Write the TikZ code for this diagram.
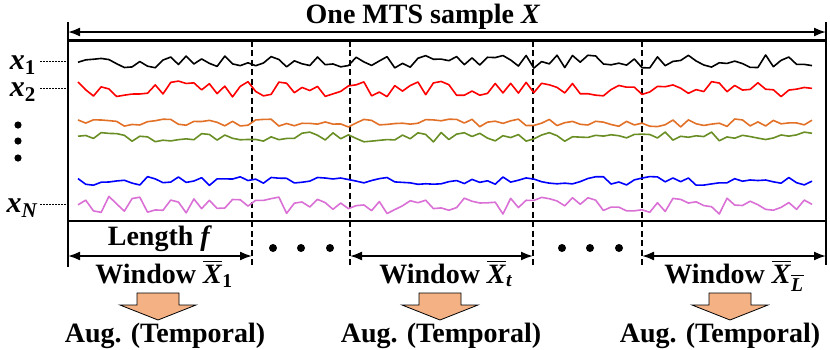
\documentclass[tikz,border=0pt]{standalone}
\usepackage{amsmath}
\usepackage{fontspec}
\setmainfont{Liberation Serif}
\usetikzlibrary{arrows.meta,positioning,calc}
\definecolor{tsorange}{RGB}{226,112,38}
\definecolor{tsgreen}{RGB}{104,142,36}
\definecolor{tspink}{RGB}{218,112,214}
\definecolor{augfill}{RGB}{244,177,131}
\tikzset{
  frame/.style={line width=2.6pt},
  span/.style={{Latex[length=12pt,width=9pt]}-{Latex[length=12pt,width=9pt]}, line width=1.8pt},
  cut/.style={dash pattern=on 6pt off 3.5pt, line width=1.3pt},
  guide/.style={dash pattern=on 2pt off 1pt, line width=0.6pt},
  series/.style={line width=1.6pt, line join=round},
  lbl/.style={font=\fontsize{28}{31}\selectfont\bfseries, inner sep=0pt},
  var/.style={font=\fontsize{30}{32}\selectfont\bfseries, inner sep=0pt, text height=13pt, text depth=6pt},
  augarrow/.style={draw=black, line width=0.8pt, fill=augfill},
}
\begin{document}
\begin{tikzpicture}[x=1pt,y=-1pt]
  \useasboundingbox (0,0) rectangle (830,349);
  % frame of the sample
  \coordinate (nw) at (68,40.5);
  \coordinate (se) at (826,221);
  \draw[frame] (nw) -- (nw -| se);
  \draw[frame] (nw |- se) -- (se);
  \draw[frame] (68,22) -- (68,267);
  \draw[frame] (826,22) -- (826,265);
  % window borders
  \foreach \c in {252,350,533,642}
    \draw[cut] (\c,40.5) -- (\c,267);
  % time series
  \pgfmathsetseed{11}
  \foreach \yc/\amp/\col in {62/7/black, 89/8/red, 123/4/tsorange, 137/5/tsgreen, 181/4.5/blue, 205/9/tspink}
    \draw[series,\col] plot[domain=78:812,samples=96] (\x,{\yc+\amp*rand});
  % whole length
  \coordinate (topL) at (68,32);
  \coordinate (topR) at (826,32);
  \draw[span] (topL) -- (topR);
  \node[lbl, anchor=base] (title) at (423,23) {One MTS sample \textit{X}};
  % variables
  \node[var, anchor=base east] (x1) at (36,69) {\textit{x}$_{\textbf{1}}$};
  \node[var, anchor=base east] (x2) at (36,96) {\textit{x}$_{\textbf{2}}$};
  \node[var, anchor=base east] (xN) at (38,212) {\textit{x}$_{\textbf{\textit{N}}}$};
  \coordinate (g1) at (40,61);
  \coordinate (g2) at (40,88);
  \coordinate (gN) at (40,204);
  \foreach \g in {g1,g2,gN}
    \draw[guide] (\g) -- (\g -| nw);
  \foreach \y in {125,141,158}
    \fill (18,\y) circle (3.6);
  % windows
  \coordinate (c0) at (68,256);
  \coordinate (c1) at (252,256);
  \coordinate (c2) at (350,256);
  \coordinate (c3) at (533,256);
  \coordinate (c4) at (642,256);
  \coordinate (c5) at (826,256);
  \draw[span] (c0) -- (c1);
  \draw[span] (c2) -- (c3);
  \draw[span] (c4) -- (c5);
  \node[lbl, anchor=base] (len) at (160,245) {Length \textit{f}};
  \foreach \x in {273,301,330,562,590,619}
    \fill (\x,248) circle (4);
  \node[lbl, anchor=base] (win1) at (164,283) {Window $\overline{\textbf{\textit{X}}}_{\textbf{1}}$};
  \node[lbl, anchor=base] (wint) at (446,283) {Window $\overline{\textbf{\textit{X}}}_{\textbf{\textit{t}}}$};
  \node[lbl, anchor=base] (winL) at (734,283) {Window $\overline{\textbf{\textit{X}}}_{\overline{\textbf{\textit{L}}}}$};
  % augmentation
  \foreach \cx in {158,440,730}
    \draw[augarrow] (\cx-21,293) -- (\cx+21,293) -- (\cx+21,305) -- (\cx+38,305)
      -- (\cx,320) -- (\cx-38,305) -- (\cx-21,305) -- cycle;
  \node[lbl, anchor=base] (aug1) at (165,342) {Aug. (Temporal)};
  \node[lbl, anchor=base] (augt) at (441,342) {Aug. (Temporal)};
  \node[lbl, anchor=base] (augL) at (720,342) {Aug. (Temporal)};
\end{tikzpicture}
\end{document}
